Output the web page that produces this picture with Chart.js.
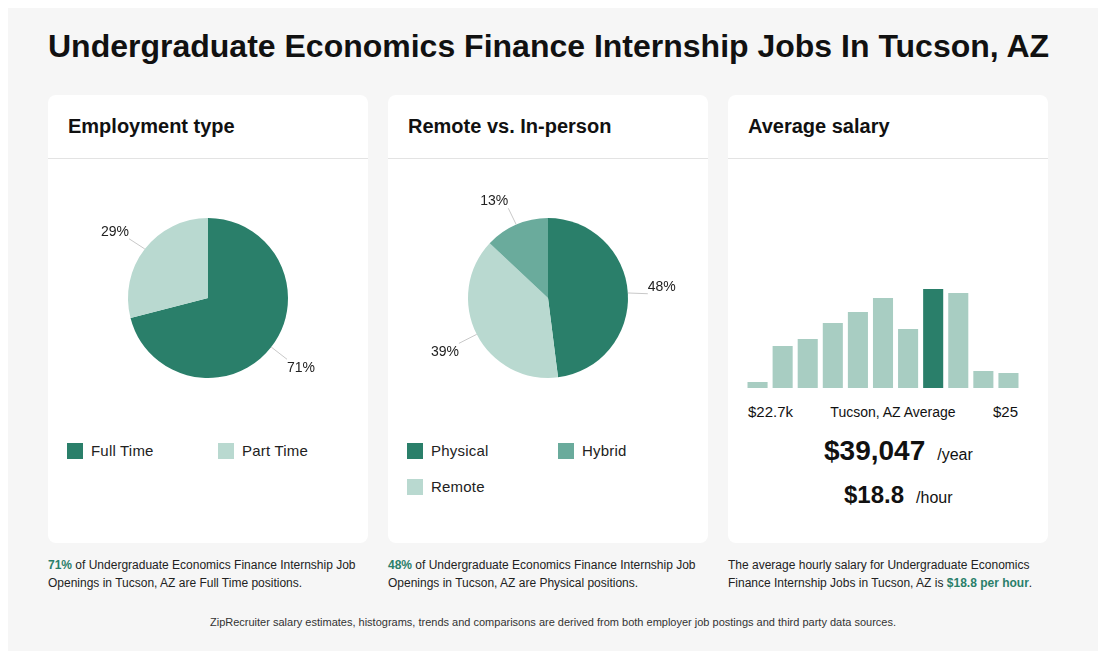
<!DOCTYPE html>
<html>
<head>
<meta charset="utf-8">
<script src="https://cdn.jsdelivr.net/npm/chart.js@4/dist/chart.umd.min.js"></script>
<style>
  html, body { margin:0; padding:0; background:#ffffff; }
  body { width:1100px; height:651px; position:relative; overflow:hidden;
         font-family:"Liberation Sans", Arial, Helvetica, sans-serif; color:#111; }
  #frame { position:absolute; left:8px; top:8px; width:1090px; height:650px; background:#f6f6f6; }
  h1 { position:absolute; left:48px; top:24px; margin:0; font-size:32px; font-weight:bold; color:#111; white-space:nowrap; line-height:44px; }
  .card { position:absolute; top:95px; width:320px; height:448px; background:#fff; border-radius:8px; }
  .card .hd { position:absolute; left:20px; top:16px; font-size:20px; font-weight:bold; color:#111; line-height:30px; }
  .card .rule { position:absolute; left:0; right:0; top:63px; height:1px; background:#e3e3e3; }
  .pie { position:absolute; left:0; top:93px; width:320px; height:220px; }
  .lg { position:absolute; font-size:15px; color:#222; line-height:16px; white-space:nowrap; letter-spacing:0.2px; }
  .lg i { position:absolute; left:0; top:0; width:16px; height:16px; }
  .lg span { position:absolute; left:24px; top:0; }
  .foot { position:absolute; top:556px; width:320px; font-size:12px; line-height:18px; color:#222; }
  .foot b { color:#2a7f6a; }
  #src { position:absolute; left:0; width:1106px; top:616px; text-align:center; font-size:11px; color:#333; }
  .sal { position:absolute; white-space:nowrap; color:#111; }
</style>
</head>
<body>
<div id="frame"></div>
<h1 id="title"></h1>

<div class="card" style="left:48px;">
  <div class="hd">Employment type</div><div class="rule"></div>
  <div class="pie"><canvas id="pie1"></canvas></div>
  <div id="lg1"></div>
</div>
<div class="card" style="left:388px;">
  <div class="hd">Remote vs. In-person</div><div class="rule"></div>
  <div class="pie"><canvas id="pie2"></canvas></div>
  <div id="lg2"></div>
</div>
<div class="card" style="left:728px;">
  <div class="hd">Average salary</div><div class="rule"></div>
  <div style="position:absolute;left:17px;top:193px;width:276px;height:100px;"><canvas id="hist"></canvas></div>
  <div class="sal" id="lo" style="left:20px;top:308px;font-size:15px;"></div>
  <div class="sal" id="mid" style="left:0;width:330px;text-align:center;top:309px;font-size:14px;"></div>
  <div class="sal" id="hi" style="right:30px;top:308px;font-size:15px;"></div>
  <div class="sal" style="left:96px;top:340px;"><span id="yr" style="font-size:28px;font-weight:bold;"></span><span style="font-size:16px;margin-left:12px;">/year</span></div>
  <div class="sal" style="left:116px;top:386px;"><span id="hr" style="font-size:24px;font-weight:bold;"></span><span style="font-size:16px;margin-left:12px;">/hour</span></div>
</div>

<div class="foot" style="left:48px;"><b>71%</b> of Undergraduate Economics Finance Internship Job Openings in Tucson, AZ are Full Time positions.</div>
<div class="foot" style="left:388px;"><b>48%</b> of Undergraduate Economics Finance Internship Job Openings in Tucson, AZ are Physical positions.</div>
<div class="foot" style="left:728px;width:330px;">The average hourly salary for Undergraduate Economics Finance Internship Jobs in Tucson, AZ is <b>$18.8 per hour</b>.</div>
<div id="src">ZipRecruiter salary estimates, histograms, trends and comparisons are derived from both employer job postings and third party data sources.</div>

<script>
// ---- data ----
const chartTitle = "Undergraduate Economics Finance Internship Jobs In Tucson, AZ";
const employmentLabels = ["Full Time", "Part Time"];
const employmentValues = [71, 29];
const employmentColors = ["#2a7f6a", "#b9d9d0"];

const workplaceLabels = ["Physical", "Remote", "Hybrid"];
const workplaceValues = [48, 39, 13];
const workplaceColors = ["#2a7f6a", "#b9d9d0", "#6aab9c"];
const workplaceLegendOrder = ["Physical", "Hybrid", "Remote"];

const salaryBins = ["b1","b2","b3","b4","b5","b6","b7","b8","b9","b10","b11"];
const salaryCounts = [6, 42, 49, 65, 76, 90, 59, 99, 95, 17, 15];
const salaryHighlightIndex = 7;
const salaryLowLabel = "$22.7k";
const salaryMidLabel = "Tucson, AZ Average";
const salaryHighLabel = "$25";
const salaryYear = "$39,047";
const salaryHour = "$18.8";

// ---- text ----
document.getElementById('title').textContent = chartTitle;
document.getElementById('lo').textContent = salaryLowLabel;
document.getElementById('mid').textContent = salaryMidLabel;
document.getElementById('hi').textContent = salaryHighLabel;
document.getElementById('yr').textContent = salaryYear;
document.getElementById('hr').textContent = salaryHour;

function buildLegend(id, labels, colorOf) {
  const el = document.getElementById(id);
  labels.forEach((l, i) => {
    const d = document.createElement('div');
    d.className = 'lg';
    d.style.left = (19 + (i % 2) * 151) + 'px';
    d.style.top = (348 + Math.floor(i / 2) * 36) + 'px';
    d.innerHTML = '<i style="background:' + colorOf(l) + '"></i><span></span>';
    d.querySelector('span').textContent = l;
    el.appendChild(d);
  });
}
buildLegend('lg1', employmentLabels, l => employmentColors[employmentLabels.indexOf(l)]);
buildLegend('lg2', workplaceLegendOrder, l => workplaceColors[workplaceLabels.indexOf(l)]);

const FONT = '"Liberation Sans", Arial, sans-serif';

const outsideLabels = {
  id: 'outsideLabels',
  afterDatasetsDraw(chart) {
    const ctx = chart.ctx;
    const meta = chart.getDatasetMeta(0);
    const data = chart.data.datasets[0].data;
    const total = data.reduce((a, b) => a + b, 0);
    ctx.save();
    meta.data.forEach((arc, i) => {
      const p = arc.getProps(['x','y','startAngle','endAngle','outerRadius'], true);
      const a = (p.startAngle + p.endAngle) / 2;
      const r = p.outerRadius;
      const cx = Math.cos(a), cy = Math.sin(a);
      const R = r * 1.25;
      const kx = p.x + cx * R, ky = p.y + cy * R;
      const txt = Math.round(data[i] / total * 100) + '%';
      ctx.font = '14px ' + FONT;
      const w = ctx.measureText(txt).width;
      const h = 14;
      // text box corner nearest the pie sits on the label circle
      const tx = kx + Math.sign(cx) * w / 2;
      const ty = ky + Math.sign(cy) * h / 2 + 2;
      // leader line
      ctx.strokeStyle = '#c8c8c8';
      ctx.lineWidth = 1;
      ctx.beginPath();
      ctx.moveTo(p.x + cx * r, p.y + cy * r);
      ctx.lineTo(kx, ky + (cy < 0 ? 2 : 0));
      ctx.stroke();
      ctx.fillStyle = '#222';
      ctx.textAlign = 'center';
      ctx.textBaseline = 'middle';
      ctx.fillText(txt, tx, ty);
    });
    ctx.restore();
  }
};

function makePie(id, labels, values, colors) {
  return new Chart(document.getElementById(id), {
    type: 'pie',
    data: { labels: labels, datasets: [{ data: values, backgroundColor: colors, borderWidth: 0 }] },
    options: {
      responsive: true, maintainAspectRatio: false, animation: false,
      layout: { padding: 30 },
      plugins: { legend: { display: false }, tooltip: { enabled: false } }
    },
    plugins: [outsideLabels]
  });
}
makePie('pie1', employmentLabels, employmentValues, employmentColors);
makePie('pie2', workplaceLabels, workplaceValues, workplaceColors);

new Chart(document.getElementById('hist'), {
  type: 'bar',
  data: {
    labels: salaryBins,
    datasets: [{
      data: salaryCounts,
      backgroundColor: salaryCounts.map((v, i) => i === salaryHighlightIndex ? '#2a7f6a' : '#a8cdc2'),
      borderWidth: 0,
      barPercentage: 0.8,
      categoryPercentage: 1.0
    }]
  },
  options: {
    responsive: true, maintainAspectRatio: false, animation: false,
    layout: { padding: 0 },
    scales: {
      x: { display: false },
      y: { display: false, min: 0, max: 100 }
    },
    plugins: { legend: { display: false }, tooltip: { enabled: false } }
  }
});
</script>
</body>
</html>
